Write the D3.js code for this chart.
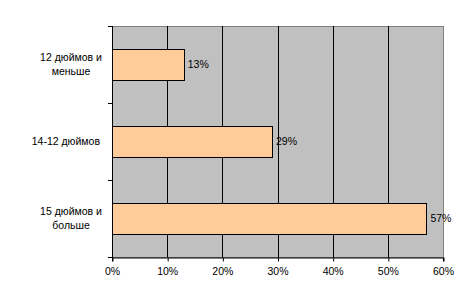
<!DOCTYPE html>
<html>
<head>
<meta charset="utf-8">
<script src="https://cdn.jsdelivr.net/npm/d3@7"></script>
<style>
  body { margin: 0; background: #fff; }
  text { font-family: "Liberation Sans", Arial, sans-serif; font-size: 10.5px; fill: #000; }
</style>
</head>
<body>
<script>
var categories = [["12 дюймов и", "меньше"], ["14-12 дюймов"], ["15 дюймов и", "больше"]]
var values = [13, 29, 57]
var xTicks = [0, 10, 20, 30, 40, 50, 60]

var width = 472, height = 299
var pLeft = 112, pRight = 443, pTop = 26, pBottom = 257

var svg = d3.select("body")
      .append("svg")
      .attr("width", width)
      .attr("height", height)

var x = d3.scaleLinear().domain([0, 60]).range([pLeft, pRight])
var y = d3.scaleBand().domain(d3.range(categories.length)).range([pTop, pBottom]).paddingInner(0.6).paddingOuter(0.3)
var yb = d3.scaleBand().domain(d3.range(categories.length)).range([pTop, pBottom])

// plot area
svg.append("rect")
  .attr("x", pLeft + 0.5).attr("y", pTop + 0.5)
  .attr("width", pRight - pLeft).attr("height", pBottom - pTop)
  .attr("fill", "#c0c0c0")
  .attr("stroke", "#808080")

// vertical gridlines
svg.append("g").selectAll("line")
  .data(xTicks.slice(1, -1))
  .enter().append("line")
  .attr("x1", function(d){ return Math.round(x(d)) + 0.5 })
  .attr("x2", function(d){ return Math.round(x(d)) + 0.5 })
  .attr("y1", pTop).attr("y2", pBottom)
  .attr("stroke", "#000")

// bars
svg.append("g").selectAll("rect")
  .data(values)
  .enter().append("rect")
  .attr("x", x(0) + 0.5)
  .attr("y", function(d, i){ return Math.round(y(i)) + 0.5 })
  .attr("width", function(d){ return Math.round(x(d) - x(0)) })
  .attr("height", Math.round(y.bandwidth()))
  .attr("fill", "#ffcc99")
  .attr("stroke", "#000")

// value labels
svg.append("g").selectAll("text")
  .data(values)
  .enter().append("text")
  .attr("x", function(d){ return x(d) + 4 })
  .attr("y", function(d, i){ return y(i) + y.bandwidth() / 2 })
  .attr("dy", "0.35em")
  .text(function(d){ return d + "%" })

// x axis
var xAxis = d3.axisBottom(x)
  .tickValues(xTicks)
  .tickFormat(function(d){ return d + "%" })
  .tickSize(4)
  .tickPadding(6)
var gx = svg.append("g").attr("transform", "translate(0," + (pBottom + 0.5) + ")").call(xAxis)
gx.attr("font-size", null).attr("font-family", null)
gx.select(".domain").attr("stroke", "#000")
gx.selectAll(".tick line").attr("transform", "translate(0.5,0)")

// y axis line + ticks at category boundaries
svg.append("line")
  .attr("x1", pLeft + 0.5).attr("x2", pLeft + 0.5)
  .attr("y1", pTop).attr("y2", pBottom + 1)
  .attr("stroke", "#000")
svg.append("g").selectAll("line")
  .data(d3.range(categories.length + 1))
  .enter().append("line")
  .attr("x1", pLeft - 4).attr("x2", pLeft)
  .attr("y1", function(d){ return Math.round(pTop + d * yb.bandwidth()) + 0.5 })
  .attr("y2", function(d){ return Math.round(pTop + d * yb.bandwidth()) + 0.5 })
  .attr("stroke", "#000")

// category labels
var lab = svg.append("g").selectAll("text")
  .data(categories)
  .enter().append("text")
  .attr("text-anchor", function(d){ return d.length > 1 ? "middle" : "end" })
  .attr("transform", function(d, i){
    var cy = yb(i) + yb.bandwidth() / 2 - (d.length - 1) * 7
    return "translate(" + (d.length > 1 ? 71 : 100) + "," + cy + ")"
  })
lab.selectAll("tspan")
  .data(function(d){ return d })
  .enter().append("tspan")
  .attr("x", 0)
  .attr("y", function(d, i){ return i * 14 })
  .attr("dy", "0.35em")
  .text(function(d){ return d })
</script>
</body>
</html>
